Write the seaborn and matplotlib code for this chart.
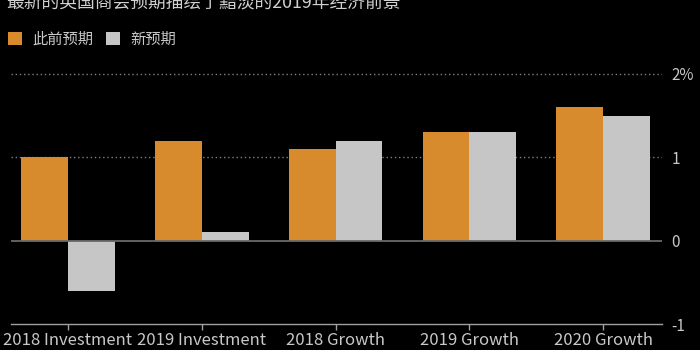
import matplotlib
matplotlib.use("Agg")
import matplotlib.pyplot as plt
import seaborn as sns
import pandas as pd

# Forecast data (% change)
categories = ["2018 Investment", "2019 Investment", "2018 Growth", "2019 Growth", "2020 Growth"]
previous_forecast = [1.0, 1.2, 1.1, 1.3, 1.6]
new_forecast = [-0.6, 0.1, 1.2, 1.3, 1.5]
series_names = ["此前预期", "新预期"]
y_ticks = [-1, 0, 1, 2]
y_tick_labels = ["-1", "0", "1", "2%"]
title = "最新的英国商会预期描绘了黯淡的2019年经济前景"

ORANGE = "#d88b2d"
GREY = "#c6c6c6"
TEXT = "#c8c8c8"
BG = "#000000"

sns.set_theme(style="dark")
plt.rcParams["font.family"] = ["Noto Sans CJK SC", "DejaVu Sans"]

df = pd.DataFrame({
    "category": categories * 2,
    "value": previous_forecast + new_forecast,
    "series": [series_names[0]] * len(categories) + [series_names[1]] * len(categories),
})

fig = plt.figure(figsize=(7, 3.5), dpi=100, facecolor=BG)
ax = fig.add_axes([11 / 700, 1 - 328.2 / 350, (662 - 11) / 700, (328.2 - 69.8) / 350])
ax.set_facecolor(BG)

sns.barplot(data=df, x="category", y="value", hue="series", order=categories,
            hue_order=series_names, palette=[ORANGE, GREY], width=0.7,
            linewidth=0, saturation=1, ax=ax, zorder=3)

ax.set_xlim(-0.426, 4.44)
ax.set_ylim(-1.05, 2.05)

# dotted gridlines, solid zero line
for yv in [1, 2]:
    ax.axhline(yv, color="#808080", lw=1.0, ls=(0, (1, 2)), zorder=1)
ax.axhline(0, color="#6a6a6a", lw=1.3, zorder=4)

for s in ["top", "right", "left"]:
    ax.spines[s].set_visible(False)
ax.spines["bottom"].set_position(("data", -1))
ax.spines["bottom"].set_color("#a0a0a0")
ax.spines["bottom"].set_linewidth(1.0)

ax.set_yticks(y_ticks)
ax.set_yticklabels(y_tick_labels)
ax.yaxis.tick_right()
ax.tick_params(axis="y", length=0, pad=7, labelcolor=TEXT, labelsize=11)
ax.tick_params(axis="x", direction="out", length=4, width=1, color="#a0a0a0",
               pad=2, labelcolor=TEXT, labelsize=12, bottom=True)
ax.set_xlabel("")
ax.set_ylabel("")
ax.grid(False)

handles, labels = ax.get_legend_handles_labels()
ax.legend(handles, labels, loc="upper left", bbox_to_anchor=(8 / 700, 1 - 31 / 350),
          bbox_transform=fig.transFigure, ncol=2, frameon=False, fontsize=11,
          handlelength=0.92, handleheight=0.92, handletextpad=0.65,
          columnspacing=0.85, borderpad=0, borderaxespad=0, labelcolor=TEXT)

fig.text(6 / 700, 1 - 3 / 350, title, color="#d0d0d0", fontsize=12.8,
         ha="left", va="center")

fig.savefig("out.png", dpi=100, facecolor=BG)
